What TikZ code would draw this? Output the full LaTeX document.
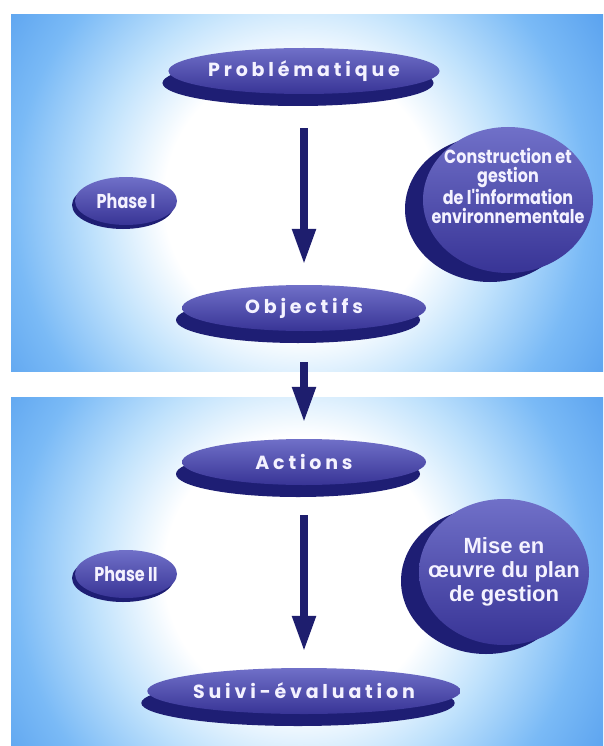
\documentclass[tikz,border=0pt]{standalone}
\usepackage{fontspec}
\setmainfont{Poppins}
\newfontfamily\headfont[LetterSpace=20]{Poppins}
\newfontfamily\condfont[FakeStretch=0.8]{Poppins}
\newfontfamily\infofont[FakeStretch=0.84]{Poppins}
\newfontfamily\helvfont{Liberation Sans}
\usetikzlibrary{shapes.geometric,arrows.meta,shadows}

\definecolor{panelblue}{RGB}{50,128,224}
\definecolor{deepblue}{RGB}{44,120,218}
\definecolor{midblue}{RGB}{74,150,235}
\definecolor{glowblue}{RGB}{122,186,246}
\definecolor{paleblue}{RGB}{192,226,252}
\definecolor{facelight}{RGB}{112,112,200}
\definecolor{facedark}{RGB}{56,52,150}
\definecolor{discshadow}{RGB}{30,30,116}
\definecolor{arrowblue}{RGB}{30,30,110}
\definecolor{disctext}{RGB}{244,242,255}

% white glow fading into the blue panel colour
\pgfdeclareradialshading{panelglow}{\pgfpoint{0bp}{0bp}}{%
  color(0bp)=(white); color(8.5bp)=(white); color(13bp)=(paleblue);
  color(18bp)=(glowblue); color(24.5bp)=(midblue); color(31bp)=(panelblue);
  color(45bp)=(deepblue); color(72bp)=(deepblue)}

\tikzset{
  disc/.style={ellipse, inner sep=0pt, top color=facelight, bottom color=facedark,
    text=disctext},
  heading/.style={disc, minimum width=244pt, minimum height=46pt,
    general shadow={fill=discshadow, shadow xshift=-6pt, shadow yshift=-12pt},
    font=\headfont\bfseries\fontsize{19}{21}\selectfont},
  phase/.style={disc, minimum width=102pt, minimum height=48pt,
    general shadow={fill=discshadow, shadow xshift=-3pt, shadow yshift=-4pt},
    font=\condfont\bfseries\fontsize{20}{22}\selectfont},
  bigdisc/.style={disc, minimum width=170pt, minimum height=146pt,
    general shadow={fill=discshadow, shadow xshift=-18pt, shadow yshift=-9pt}},
  bigtext/.style={text=disctext, align=center, inner sep=0pt},
  flow/.style={draw=arrowblue, line width=8pt,
    -{Triangle[width=22pt,length=36pt]}},
}

\begin{document}
\begin{tikzpicture}[x=1pt,y=-1pt]
\useasboundingbox (0,0) rectangle (603,746);
\fill[white] (0,0) rectangle (603,746);

% upper panel
\begin{scope}
  \clip (11,15) rectangle (603,371);
  \shade[shading=panelglow] (-100,-200) rectangle (700,600);
\end{scope}

% lower panel
\begin{scope}
  \clip (11,397) rectangle (603,746);
  \shade[shading=panelglow] (-100,172) rectangle (700,972);
\end{scope}

% discs of phase I
\node[heading] (prob) at (304,71) {Problématique};
\node[heading] (obj) at (304,308) {Objectifs};
\node[phase] (ph1) at (126,201) {Phase I};
\node[bigdisc] (info) at (508,200) {};
\node[bigtext, font=\infofont\bfseries\fontsize{19}{19.5}\selectfont] (info-text)
  at ([yshift=14pt]info.center)
  {Construction et\\gestion\\de l'information\\environnementale};

% discs of phase II
\node[heading] (act) at (304,462) {Actions};
\node[heading] (suivi) at (304,691) {Suivi-évaluation};
\node[phase] (ph2) at (126,574) {Phase II};
\node[bigdisc] (plan) at (504,572) {};
\node[bigtext, font=\helvfont\bfseries\fontsize{22}{24}\selectfont] (plan-text)
  at (plan.center) {Mise en\\œuvre du plan\\de gestion};

% flow arrows
\draw[flow] ([yshift=-34pt]prob.south) -- ([yshift=20pt]obj.north);
\draw[flow] ([yshift=-31pt]obj.south) -- ([yshift=16pt]act.north);
\draw[flow] ([yshift=-30pt]act.south) -- ([yshift=16pt]suivi.north);
\end{tikzpicture}
\end{document}
